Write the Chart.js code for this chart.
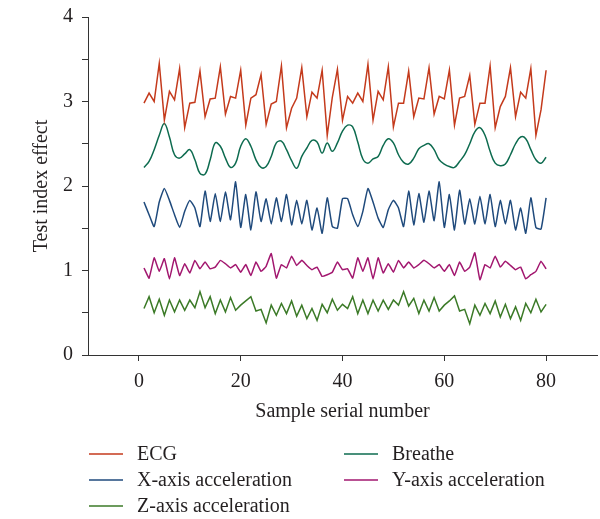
<!DOCTYPE html>
<html>
<head>
<meta charset="utf-8">
<script src="https://cdn.jsdelivr.net/npm/chart.js@4.4.1/dist/chart.umd.min.js"></script>
<style>
  html, body { margin: 0; padding: 0; background: #fff; }
  #wrap { position: relative; width: 600px; height: 519px; }
</style>
</head>
<body>
<div id="wrap"><canvas id="chart" width="600" height="519"></canvas></div>
<script>
// ==========================
// DATA
// ==========================
const ecg = [2.98, 3.10, 3.00, 3.45, 2.78, 3.12, 3.02, 3.39, 2.69, 2.98, 2.99, 3.36, 2.82, 3.03, 3.04, 3.41, 2.85, 3.06, 3.04, 3.37,
  2.72, 3.04, 3.08, 3.32, 2.73, 2.97, 3.00, 3.42, 2.69, 2.92, 3.04, 3.40, 2.82, 3.11, 3.04, 3.37, 2.60, 3.05, 3.38, 2.78,
  3.06, 2.98, 3.10, 3.00, 3.44, 2.78, 3.12, 3.02, 3.41, 2.70, 2.98, 2.98, 3.36, 2.82, 3.04, 3.03, 3.40, 2.85, 3.06, 3.03,
  3.37, 2.72, 3.04, 3.06, 3.31, 2.73, 2.98, 2.98, 3.42, 2.69, 2.94, 3.06, 3.40, 2.82, 3.11, 3.04, 3.39, 2.60, 2.90, 3.37];
const breathe = [2.22, 2.29, 2.43, 2.60, 2.74, 2.58, 2.37, 2.33, 2.38, 2.43, 2.31, 2.15, 2.14, 2.31, 2.51, 2.47, 2.33, 2.22, 2.27, 2.47,
  2.56, 2.47, 2.31, 2.22, 2.23, 2.35, 2.51, 2.53, 2.43, 2.30, 2.21, 2.35, 2.45, 2.54, 2.52, 2.39, 2.51, 2.41, 2.51, 2.65,
  2.72, 2.70, 2.52, 2.32, 2.27, 2.32, 2.35, 2.48, 2.56, 2.51, 2.37, 2.28, 2.26, 2.33, 2.44, 2.48, 2.50, 2.43, 2.31, 2.26,
  2.23, 2.22, 2.29, 2.37, 2.50, 2.64, 2.69, 2.60, 2.41, 2.27, 2.24, 2.26, 2.37, 2.50, 2.58, 2.56, 2.43, 2.31, 2.27, 2.34];
const xAccel = [1.81, 1.66, 1.52, 1.81, 1.97, 1.83, 1.66, 1.51, 1.70, 1.83, 1.74, 1.52, 1.94, 1.58, 1.91, 1.58, 1.93, 1.60, 2.05, 1.51,
  1.90, 1.48, 1.93, 1.58, 1.85, 1.55, 1.86, 1.58, 1.90, 1.54, 1.83, 1.55, 1.83, 1.48, 1.74, 1.44, 1.86, 1.52, 1.50, 1.85,
  1.85, 1.66, 1.52, 1.70, 1.97, 1.81, 1.62, 1.51, 1.72, 1.83, 1.74, 1.52, 1.94, 1.54, 1.91, 1.57, 1.94, 1.59, 2.05, 1.51,
  1.90, 1.48, 1.95, 1.55, 1.85, 1.55, 1.88, 1.55, 1.90, 1.52, 1.83, 1.55, 1.83, 1.48, 1.74, 1.44, 1.86, 1.51, 1.49, 1.86];
const yAccel = [1.03, 0.91, 1.15, 0.99, 1.14, 0.90, 1.15, 0.94, 1.08, 0.97, 1.12, 1.02, 1.10, 1.02, 1.04, 1.12, 1.08, 1.03, 1.07, 0.98,
  1.07, 0.94, 1.10, 0.99, 1.05, 1.20, 0.91, 1.07, 1.03, 1.17, 1.06, 1.12, 1.06, 1.01, 1.04, 0.93, 0.95, 0.98, 1.10, 1.01,
  1.02, 0.91, 1.15, 0.99, 1.15, 0.90, 1.15, 0.97, 1.08, 0.98, 1.12, 1.03, 1.10, 1.03, 1.07, 1.12, 1.08, 1.03, 1.07, 0.99,
  1.07, 0.94, 1.10, 0.99, 1.04, 1.21, 0.89, 1.07, 1.03, 1.17, 1.04, 1.11, 1.06, 1.01, 1.04, 0.90, 0.95, 0.99, 1.11, 1.02];
const zAccel = [0.55, 0.69, 0.50, 0.66, 0.47, 0.65, 0.51, 0.65, 0.53, 0.65, 0.56, 0.75, 0.56, 0.69, 0.49, 0.65, 0.51, 0.68, 0.53, 0.59,
  0.64, 0.69, 0.52, 0.54, 0.38, 0.59, 0.47, 0.61, 0.49, 0.64, 0.46, 0.59, 0.43, 0.55, 0.41, 0.60, 0.50, 0.66, 0.53, 0.60,
  0.55, 0.69, 0.49, 0.65, 0.49, 0.65, 0.52, 0.65, 0.54, 0.65, 0.59, 0.75, 0.58, 0.67, 0.49, 0.65, 0.52, 0.68, 0.52, 0.59,
  0.64, 0.70, 0.52, 0.54, 0.37, 0.59, 0.47, 0.61, 0.49, 0.64, 0.45, 0.60, 0.43, 0.57, 0.41, 0.61, 0.50, 0.66, 0.51, 0.60];

const seriesNames = ["ECG", "Breathe", "X-axis acceleration", "Y-axis acceleration", "Z-axis acceleration"];
const seriesColors = ["#c43a1c", "#0d6b4f", "#1f4a7c", "#a2176f", "#3b7a27"];
const xTickValues = [0, 20, 40, 60, 80];
const yTickValues = [0, 0.5, 1, 1.5, 2, 2.5, 3, 3.5, 4];

// sample serial numbers 1..80
const samples = ecg.map((_, i) => i + 1);

const FONT = "'Liberation Serif', 'Times New Roman', serif";
const TEXT = "#231f20";

function toPoints(values) {
  return values.map((v, i) => ({ x: samples[i], y: v }));
}

const seriesValues = [ecg, breathe, xAccel, yAccel, zAccel];
const tensions = [0, 0.4, 0.15, 0.1, 0];

const datasets = seriesValues.map((vals, k) => ({
  label: seriesNames[k],
  data: toPoints(vals),
  borderColor: seriesColors[k],
  backgroundColor: seriesColors[k],
  borderWidth: 1.5,
  pointRadius: 0,
  tension: tensions[k],
  fill: false,
}));

// ==========================
// LEGEND (two columns, drawn under the axes)
// ==========================
const legendPlugin = {
  id: "twoColLegend",
  afterDraw(chart) {
    const ctx = chart.ctx;
    const colX = [89, 344];
    const rowY = [454, 480, 506];
    ctx.save();
    ctx.font = "20px " + FONT;
    ctx.textBaseline = "middle";
    ctx.fillStyle = TEXT;
    chart.data.datasets.forEach((ds, i) => {
      const col = i % 2;
      const row = Math.floor(i / 2);
      const x = colX[col];
      const y = rowY[row];
      ctx.strokeStyle = ds.borderColor;
      ctx.lineWidth = 1.5;
      ctx.beginPath();
      ctx.moveTo(x, y);
      ctx.lineTo(x + 34, y);
      ctx.stroke();
      ctx.fillText(ds.label, x + 48, y + 1);
    });
    ctx.restore();
  },
};

new Chart(document.getElementById("chart"), {
  type: "line",
  data: { datasets: datasets },
  options: {
    responsive: false,
    animation: false,
    layout: { padding: { top: 17, right: 3, bottom: 94, left: 0 } },
    plugins: {
      legend: { display: false },
      tooltip: { enabled: false },
    },
    scales: {
      x: {
        type: "linear",
        min: -10,
        max: 90,
        afterBuildTicks: (scale) => {
          scale.ticks = xTickValues.map((v) => ({ value: v }));
        },
        afterFit: (scale) => {
          scale.height = 70;
          scale.paddingLeft = 0;
          scale.paddingRight = 0;
        },
        grid: { drawOnChartArea: false, tickLength: 6, color: "#333" },
        border: { color: "#333", width: 1 },
        ticks: {
          font: { family: FONT, size: 20 },
          color: TEXT,
          padding: 9,
          maxRotation: 0,
        },
        title: {
          display: true,
          text: "Sample serial number",
          font: { family: FONT, size: 20 },
          color: TEXT,
          padding: { top: 0, bottom: 1 },
        },
      },
      y: {
        type: "linear",
        min: 0,
        max: 4,
        afterBuildTicks: (scale) => {
          scale.ticks = yTickValues.map((v) => ({ value: v }));
        },
        afterFit: (scale) => {
          scale.width = 88;
          scale.paddingTop = 0;
          scale.paddingBottom = 0;
        },
        grid: { drawOnChartArea: false, tickLength: 6, color: "#333" },
        border: { color: "#333", width: 1 },
        ticks: {
          font: { family: FONT, size: 20 },
          color: TEXT,
          padding: 9,
          callback: (v) => (Number.isInteger(v) ? String(v) : ""),
        },
        title: {
          display: true,
          text: "Test index effect",
          font: { family: FONT, size: 20 },
          color: TEXT,
          padding: { top: 30, bottom: 0 },
        },
      },
    },
  },
  plugins: [legendPlugin],
});
</script>
</body>
</html>
